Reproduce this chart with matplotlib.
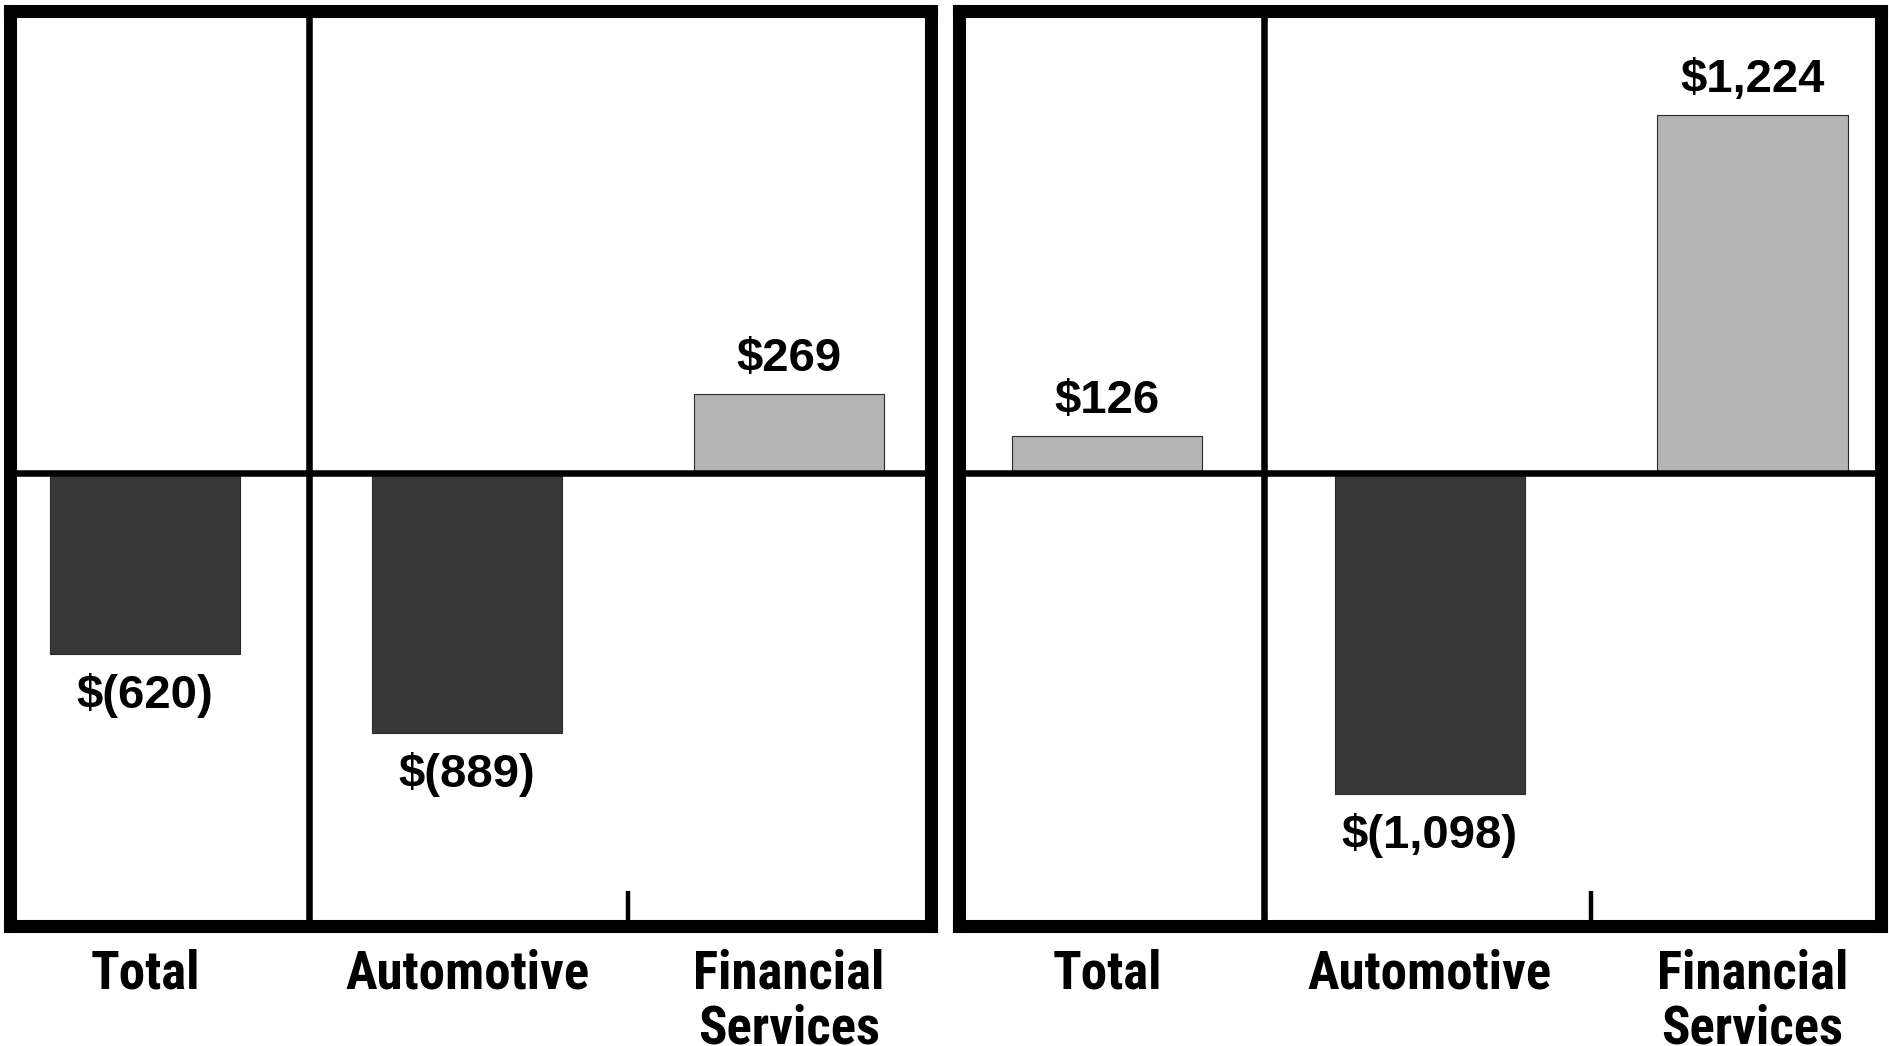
import matplotlib
matplotlib.use("Agg")
import matplotlib.pyplot as plt
from matplotlib import font_manager

# values in $ millions, one panel per period
categories = ["Total", "Automotive", "Financial\nServices"]
left_values = [-620, -889, 269]
right_values = [126, -1098, 1224]
left_labels = ["$(620)", "$(889)", "$269"]
right_labels = ["$126", "$(1,098)", "$1,224"]

names = {f.name for f in font_manager.fontManager.ttflist}
if "Liberation Sans Narrow" in names:
    cat_font = "Liberation Sans Narrow"
elif "Roboto Condensed" in names:
    cat_font = "Roboto Condensed"
else:
    cat_font = "Liberation Sans"
val_font = "Liberation Sans"

dark = "#383838"
light = "#b4b4b4"

fig = plt.figure(figsize=(18.9, 10.46), dpi=100)
bottom, top = 0.1147, 0.9898
ax1 = fig.add_axes([0.00513, bottom, 0.4875, top - bottom])
ax2 = fig.add_axes([0.5074, bottom, 0.4881, top - bottom])

panels = [
    (ax1, left_values, left_labels, (-0.42, 2.441), 0.51),
    (ax2, right_values, right_labels, (-0.459, 2.40), 0.485),
]

for ax, vals, labs, xlim, div in panels:
    x = list(range(len(categories)))
    colors = [light if v > 0 else dark for v in vals]
    ax.bar(x, vals, width=0.59, color=colors, edgecolor="#2a2a2a",
           linewidth=0.8, zorder=2)
    ax.axhline(0, color="black", lw=4.7, zorder=3)
    ax.axvline(div, color="black", lw=4.7, zorder=3)

    for xi, v, t in zip(x, vals, labs):
        if v > 0:
            ax.annotate(t, (xi, v), xytext=(0, 16.5), textcoords="offset points",
                        ha="center", va="baseline", fontsize=34,
                        fontweight="bold", family=val_font)
        else:
            ax.annotate(t, (xi, v), xytext=(0, -14), textcoords="offset points",
                        ha="center", va="top", fontsize=34,
                        fontweight="bold", family=val_font)

    ax.set_xlim(*xlim)
    ax.set_ylim(-1550, 1580)
    ax.set_yticks([])
    ax.set_xticks(x)
    ax.set_xticklabels(categories, fontsize=38, fontweight="bold",
                       family=cat_font, linespacing=1.1)
    ax.tick_params(axis="x", which="major", length=0, pad=16)
    ax.set_xticks([1.5], minor=True)
    ax.tick_params(axis="x", which="minor", direction="in", length=25,
                   width=3.2, color="black")
    for s in ax.spines.values():
        s.set_linewidth(9.4)
        s.set_color("black")

fig.savefig("out.png", dpi=100)
